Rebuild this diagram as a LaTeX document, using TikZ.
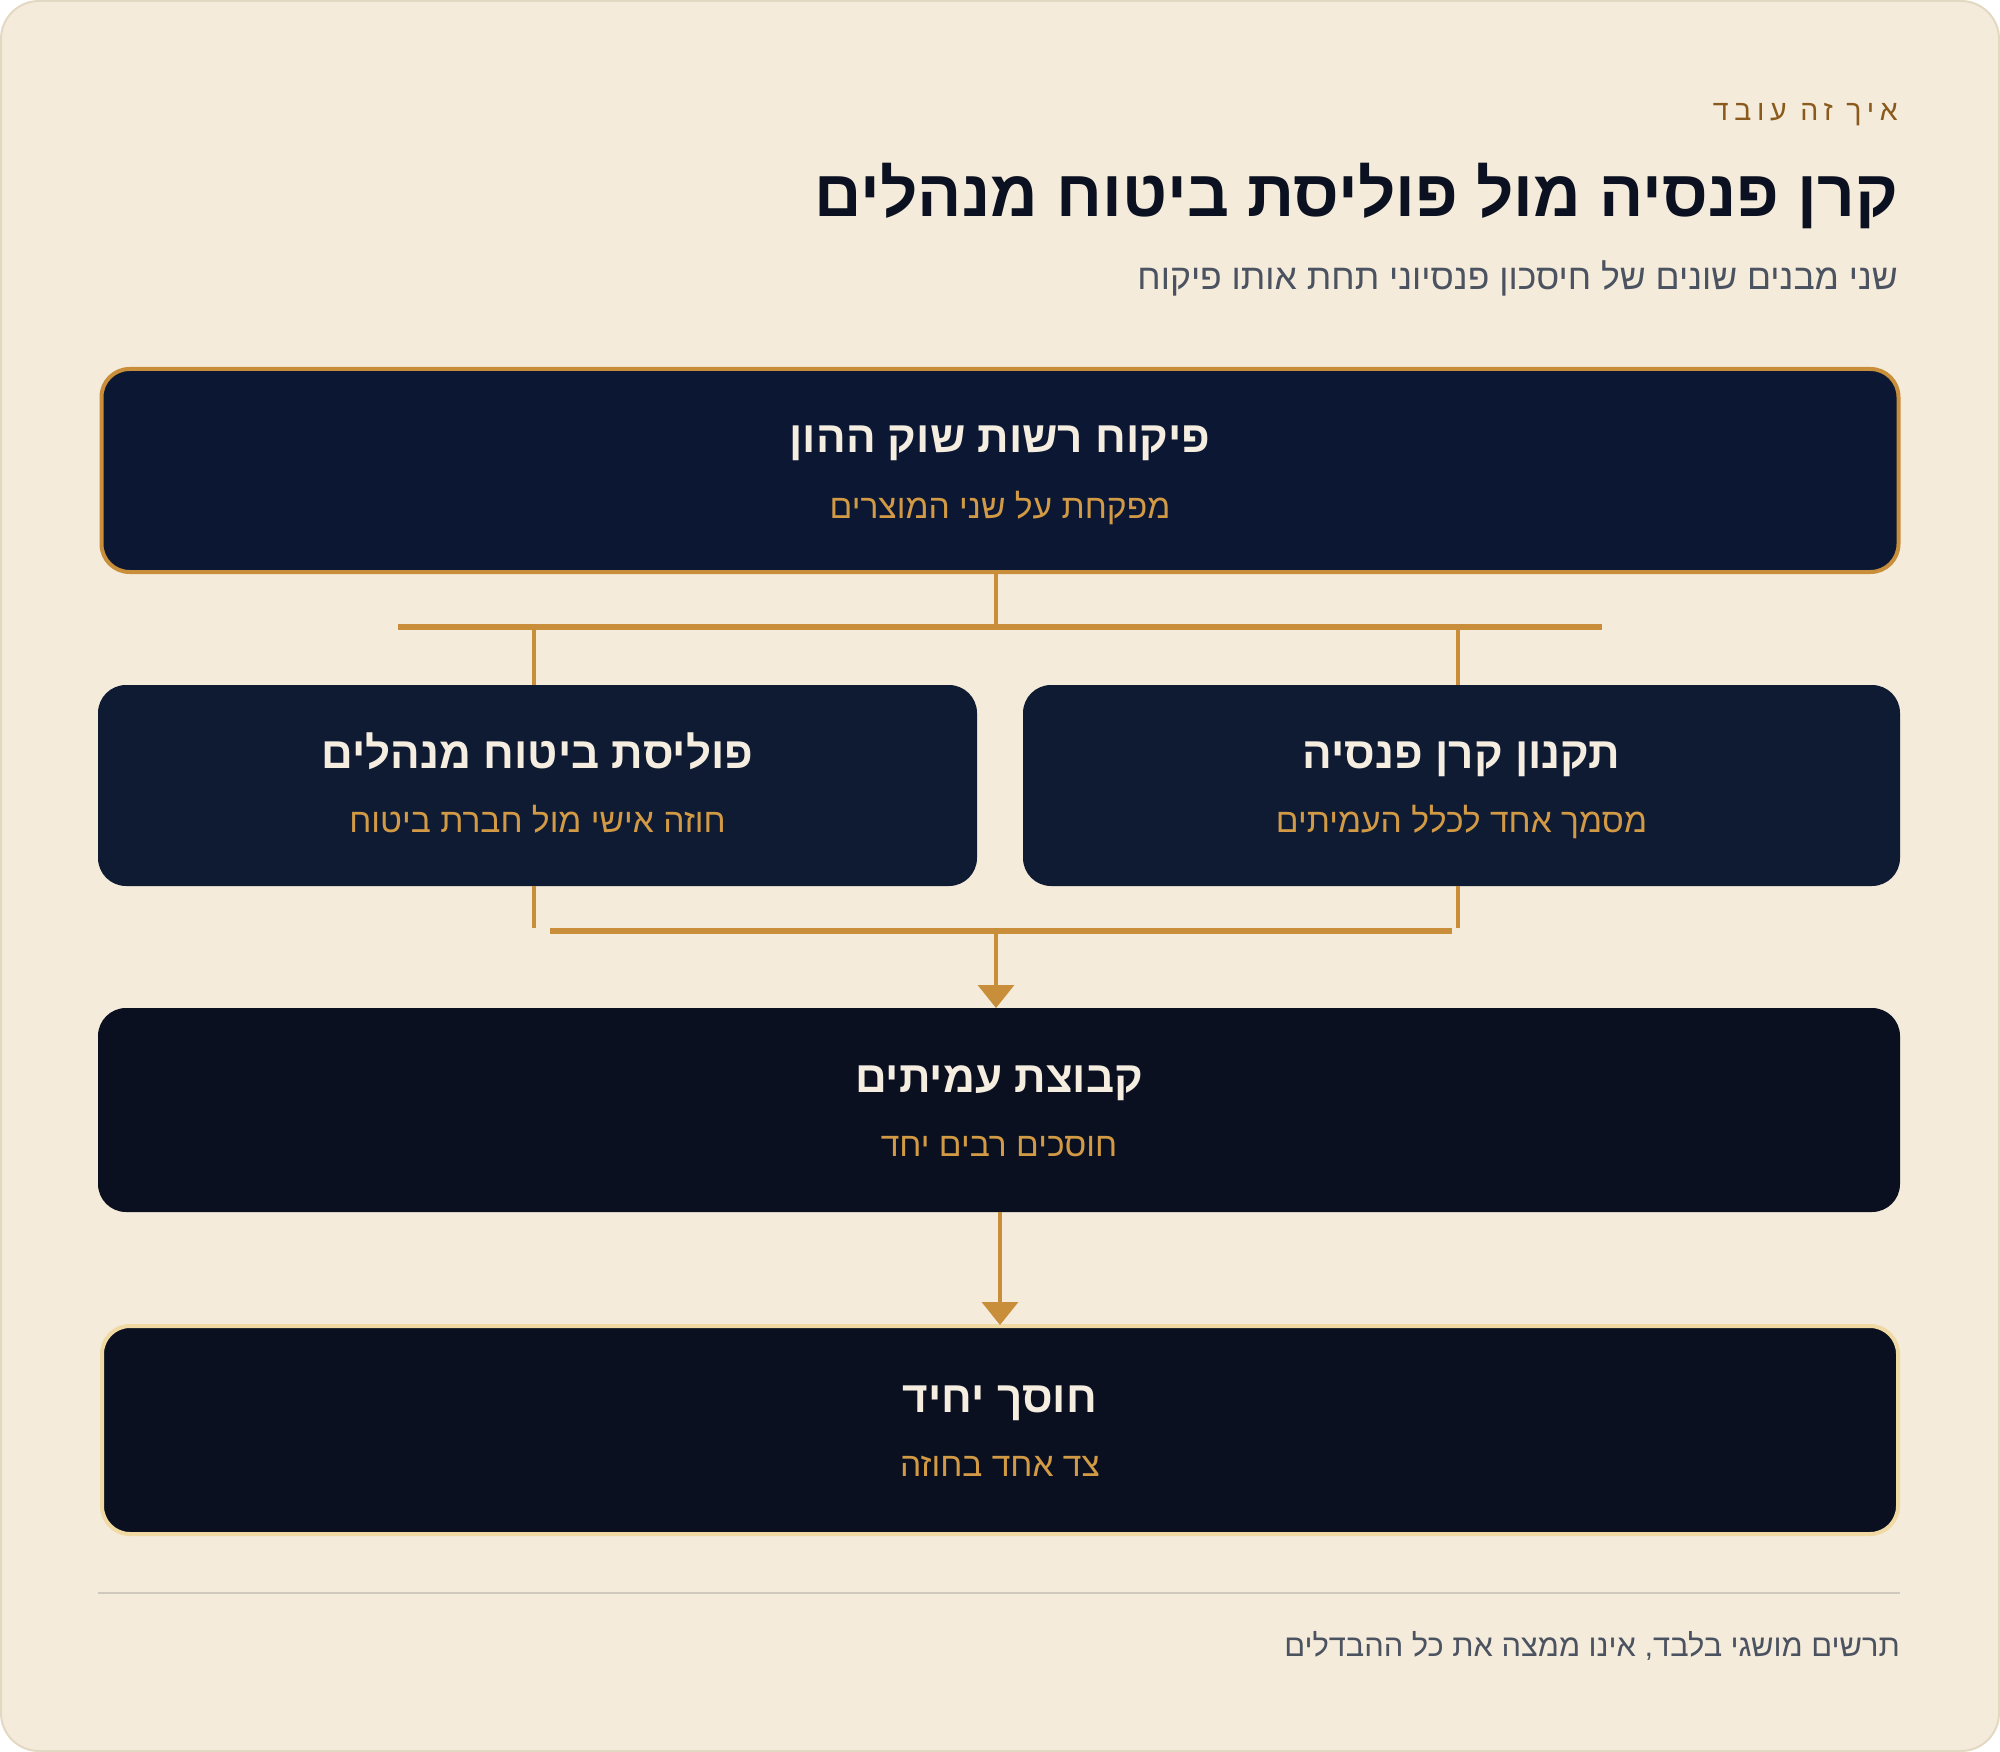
\documentclass[tikz,border=0pt]{standalone}
\usepackage{fontspec}
\usetikzlibrary{arrows.meta}
\TeXXeTstate=1
\newfontfamily\heb[Script=Hebrew]{Liberation Sans}
\definecolor{bgcream}{HTML}{F4EBDB}
\definecolor{bgedge}{HTML}{E3D8C2}
\definecolor{navyA}{HTML}{0C1833}
\definecolor{navyB}{HTML}{0F1B33}
\definecolor{navyC}{HTML}{0A1020}
\definecolor{gold}{HTML}{C98E3A}
\definecolor{goldtxt}{HTML}{D39A45}
\definecolor{paleGold}{HTML}{F0D9A2}
\definecolor{creamtxt}{HTML}{F5EDE0}
\definecolor{brownhd}{HTML}{8A5A1C}
\definecolor{inkdark}{HTML}{0B1120}
\definecolor{graytxt}{HTML}{4B5260}
\definecolor{sepline}{HTML}{CFC8BD}
\tikzset{
  boxbase/.style={rectangle, rounded corners=28pt, inner sep=0pt},
  boxtitle/.style={anchor=base, text=creamtxt, font=\heb\bfseries\fontsize{44}{48}\selectfont, inner sep=0pt},
  boxsub/.style={anchor=base, text=goldtxt, font=\heb\fontsize{33.6}{36}\selectfont, inner sep=0pt},
  conn/.style={draw=gold, line width=3.5pt},
  bar/.style={draw=gold, line width=6pt},
  arr/.style={draw=gold, line width=3.5pt, -{Triangle[width=36pt,length=23pt]}},
}
\begin{document}
\begin{tikzpicture}[x=1pt,y=-1pt]
\useasboundingbox (0,0) rectangle (2000,1752);
\path[fill=bgcream, draw=bgedge, line width=2pt, rounded corners=38pt] (1,1) rectangle (1999,1751);
% header texts
\node[anchor=base east, text=brownhd, inner sep=0pt, font=\heb\fontsize{28.5}{30}\selectfont\addfontfeature{LetterSpace=20}] (kicker) at (1898,121) {\beginR איך זה עובד\endR};
\node[anchor=base east, text=inkdark, inner sep=0pt, font=\heb\bfseries\fontsize{65.6}{70}\selectfont] (title) at (1898,217) {\beginR קרן פנסיה מול פוליסת ביטוח מנהלים\endR};
\node[anchor=base east, text=graytxt, inner sep=0pt, font=\heb\fontsize{35.5}{38}\selectfont] (subtitle) at (1898,290) {\beginR שני מבנים שונים של חיסכון פנסיוני תחת אותו פיקוח\endR};
% boxes
\node[boxbase, fill=navyA, draw=gold, line width=4pt, minimum width=1797pt, minimum height=203pt] (b1) at (1000,470.5) {};
\node[boxtitle] (b1t) at (1000,453) {\beginR פיקוח רשות שוק ההון\endR};
\node[boxsub] (b1s) at (1000,518) {\beginR מפקחת על שני המוצרים\endR};
\node[boxbase, fill=navyB, minimum width=879pt, minimum height=201pt] (b2) at (537.5,785.5) {};
\node[boxtitle] (b2t) at (537.5,768) {\beginR פוליסת ביטוח מנהלים\endR};
\node[boxsub] (b2s) at (537.5,832) {\beginR חוזה אישי מול חברת ביטוח\endR};
\node[boxbase, fill=navyB, minimum width=877pt, minimum height=201pt] (b3) at (1461.5,785.5) {};
\node[boxtitle] (b3t) at (1461.5,768) {\beginR תקנון קרן פנסיה\endR};
\node[boxsub] (b3s) at (1461.5,832) {\beginR מסמך אחד לכלל העמיתים\endR};
\node[boxbase, fill=navyC, minimum width=1802pt, minimum height=204pt] (b4) at (999,1110) {};
\node[boxtitle] (b4t) at (999,1092) {\beginR קבוצת עמיתים\endR};
\node[boxsub] (b4s) at (999,1156) {\beginR חוסכים רבים יחד\endR};
\node[boxbase, fill=navyC, draw=paleGold, line width=4pt, minimum width=1796pt, minimum height=208pt] (b5) at (1000,1430) {};
\node[boxtitle] (b5t) at (1000,1412) {\beginR חוסך יחיד\endR};
\node[boxsub] (b5s) at (1000,1476) {\beginR צד אחד בחוזה\endR};
% connector coordinates
\coordinate (c1top) at (996,572);
\coordinate (c1bar) at (996,624);
\coordinate (bar1L) at (398,627);
\coordinate (bar1R) at (1602,627);
\coordinate (d2a) at (534,630);
\coordinate (d2b) at (534,685);
\coordinate (d3a) at (1458,630);
\coordinate (d3b) at (1458,685);
\coordinate (u2a) at (534,886);
\coordinate (u2b) at (534,928);
\coordinate (u3a) at (1458,886);
\coordinate (u3b) at (1458,928);
\coordinate (bar2L) at (550,931);
\coordinate (bar2R) at (1452,931);
\coordinate (m1) at (996,934);
\coordinate (m1tip) at (996,1008);
\coordinate (m2) at (1000,1212);
\coordinate (m2tip) at (1000,1325);
\draw[conn] (c1top) -- (c1bar);
\draw[bar] (bar1L) -- (bar1R);
\draw[conn] (d2a) -- (d2b);
\draw[conn] (d3a) -- (d3b);
\draw[conn] (u2a) -- (u2b);
\draw[conn] (u3a) -- (u3b);
\draw[bar] (bar2L) -- (bar2R);
\draw[arr] (m1) -- (m1tip);
\draw[arr] (m2) -- (m2tip);
% separator and footer
\coordinate (sepL) at (98,1593);
\coordinate (sepR) at (1900,1593);
\draw[draw=sepline, line width=2.5pt] (sepL) -- (sepR);
\node[anchor=base east, text=graytxt, inner sep=0pt, font=\heb\fontsize{30.8}{33}\selectfont] (footer) at (1900,1656) {\beginR תרשים מושגי בלבד, אינו ממצה את כל ההבדלים\endR};
\end{tikzpicture}
\end{document}
